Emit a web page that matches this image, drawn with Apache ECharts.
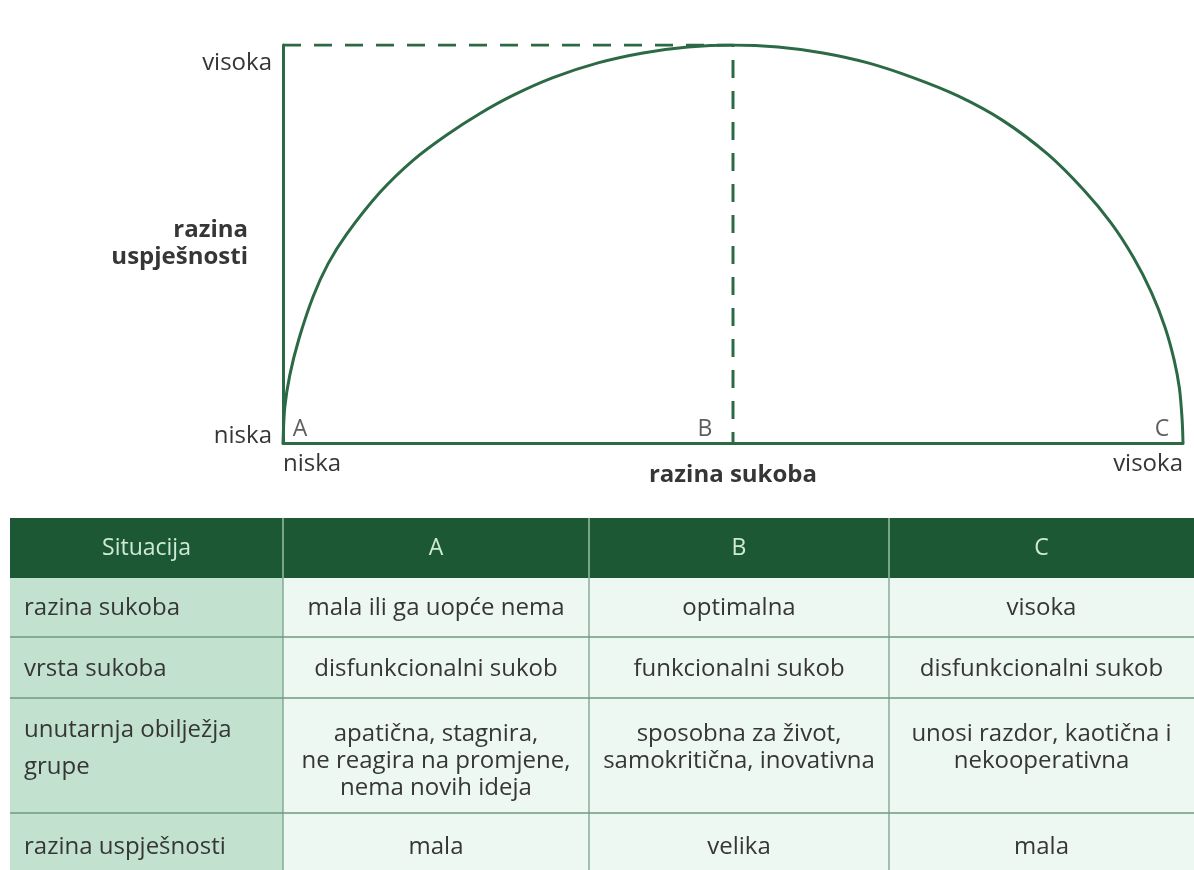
<!DOCTYPE html>
<html>
<head>
<meta charset="utf-8">
<script src="https://cdn.jsdelivr.net/npm/echarts@6/dist/echarts.min.js"></script>
<style>
html,body{margin:0;padding:0;background:#ffffff;}
#chart{width:1194px;height:870px;}
</style>
</head>
<body>
<div id="chart"></div>
<script>
// ---- data ----
const xTickValues = [0, 2];
const xTickLabels = ['niska', 'visoka'];
const yTickValues = [0, 1];
const yTickLabels = ['niska', 'visoka'];
const xAxisTitle = 'razina sukoba';
const yAxisTitle = 'razina\nuspješnosti';

const curveX = [0, 0.004, 0.015, 0.035, 0.067, 0.10, 0.1415, 0.2156, 0.2896, 0.3637, 0.4378, 0.512, 0.60, 0.70, 0.80, 0.90, 1,
                1.10, 1.20, 1.30, 1.40, 1.50, 1.60, 1.70, 1.78, 1.84, 1.89, 1.93, 1.96, 1.98, 1.992, 1.998, 2];
const curveY = [0, 0.09, 0.17, 0.26, 0.368, 0.45, 0.525, 0.630, 0.711, 0.774, 0.828, 0.874, 0.918, 0.955, 0.980, 0.995, 1,
                0.995, 0.98, 0.955, 0.918, 0.872, 0.81, 0.725, 0.635, 0.553, 0.466, 0.378, 0.291, 0.21, 0.138, 0.06, 0];

const guideX = [0, 1, 1];
const guideY = [1, 1, 0];

const pointNames = ['A', 'B', 'C'];
const pointX = [0, 1, 2];
const pointY = [0, 0, 0];

const tableHeader = ['Situacija', 'A', 'B', 'C'];
const rowLabels = ['razina sukoba', 'vrsta sukoba', 'unutarnja obilježja\ngrupe', 'razina uspješnosti'];
const colA = ['mala ili ga uopće nema', 'disfunkcionalni sukob', 'apatična, stagnira,\nne reagira na promjene,\nnema novih ideja', 'mala'];
const colB = ['optimalna', 'funkcionalni sukob', 'sposobna za život,\nsamokritična, inovativna', 'velika'];
const colC = ['visoka', 'disfunkcionalni sukob', 'unosi razdor, kaotična i\nnekooperativna', 'mala'];

// ---- styles ----
const GREEN = '#2c6a46';
const FONT = '"Open Sans", "Noto Sans", sans-serif';
const TXT = '#363636';
const FS = 24;

const chart = echarts.init(document.getElementById('chart'));

// table layout
const colEdges = [10, 283, 589, 889, 1194];
const rowEdges = [518, 578, 637, 698, 813, 890];
const graphics = [];
graphics.push({type:'rect', shape:{x:colEdges[0], y:rowEdges[0], width:colEdges[4]-colEdges[0], height:rowEdges[1]-rowEdges[0]}, style:{fill:'#1c5834'}});
graphics.push({type:'rect', shape:{x:colEdges[0], y:rowEdges[1], width:colEdges[1]-colEdges[0], height:rowEdges[5]-rowEdges[1]}, style:{fill:'#c2e2cf'}});
graphics.push({type:'rect', shape:{x:colEdges[1], y:rowEdges[1], width:colEdges[4]-colEdges[1], height:rowEdges[5]-rowEdges[1]}, style:{fill:'#eef8f3'}});
for (let r = 2; r <= 4; r++) {
  graphics.push({type:'line', shape:{x1:colEdges[0], y1:rowEdges[r], x2:colEdges[4], y2:rowEdges[r]}, style:{stroke:'#6f9a82', lineWidth:1.5}});
}
for (let c = 1; c <= 3; c++) {
  graphics.push({type:'line', shape:{x1:colEdges[c], y1:rowEdges[0], x2:colEdges[c], y2:rowEdges[1]}, style:{stroke:'#b9d8c4', lineWidth:1.2}});
  graphics.push({type:'line', shape:{x1:colEdges[c], y1:rowEdges[1], x2:colEdges[c], y2:rowEdges[5]}, style:{stroke:'#6f9a82', lineWidth:1.2}});
}
tableHeader.forEach((t, i) => {
  graphics.push({type:'text', style:{text:t, x:(colEdges[i]+colEdges[i+1])/2, y:(rowEdges[0]+rowEdges[1])/2,
    align:'center', verticalAlign:'middle', fill:'#cfe9d7', fontSize:23, fontFamily:FONT}});
});
const rowTextY = [608, 669, 749, 847];
rowLabels.forEach((t, r) => {
  graphics.push({type:'text', style:{text:t, x:24, y:rowTextY[r], align:'left', verticalAlign:'middle',
    fill:TXT, fontSize:FS, fontFamily:FONT, lineHeight:37}});
});
[colA, colB, colC].forEach((col, c) => {
  col.forEach((t, r) => {
    const cx = (colEdges[c+1]+colEdges[c+2])/2;
    if (r === 2) {
      graphics.push({type:'text', style:{text:t, x:cx, y:721, align:'center', verticalAlign:'top',
        fill:TXT, fontSize:FS, fontFamily:FONT, lineHeight:27}});
    } else {
      graphics.push({type:'text', style:{text:t, x:cx, y:rowTextY[r], align:'center', verticalAlign:'middle',
        fill:TXT, fontSize:FS, fontFamily:FONT}});
    }
  });
});

const labelOffsets = [[17, 0], [-28, 0], [-21, 0]];

const option = {
  backgroundColor: '#ffffff',
  animation: false,
  grid: {left: 283, right: 11, top: 45, bottom: 427, containLabel: false, outerBoundsMode: 'none'},
  xAxis: {
    type: 'value', min: 0, max: 2, interval: 2,
    name: xAxisTitle, nameLocation: 'middle', nameGap: 20, nameMoveOverlap: false,
    nameTextStyle: {fontSize: FS, fontWeight: 'bold', color: TXT, fontFamily: FONT},
    axisLine: {show: true, lineStyle: {color: GREEN, width: 3}},
    axisTick: {show: false}, splitLine: {show: false},
    axisLabel: {
      show: true, margin: 9, color: TXT, fontSize: FS, fontFamily: FONT,
      alignMinLabel: 'left', alignMaxLabel: 'right',
      formatter: v => { const i = xTickValues.indexOf(v); return i >= 0 ? xTickLabels[i] : ''; }
    }
  },
  yAxis: {
    type: 'value', min: 0, max: 1, interval: 1,
    name: yAxisTitle, nameLocation: 'middle', nameGap: 35, nameRotate: 0, nameMoveOverlap: false,
    nameTextStyle: {fontSize: FS, fontWeight: 'bold', color: TXT, fontFamily: FONT, align: 'right', lineHeight: 27},
    axisLine: {show: true, lineStyle: {color: GREEN, width: 3}},
    axisTick: {show: false}, splitLine: {show: false},
    axisLabel: {
      show: true, margin: 11, color: TXT, fontSize: FS, fontFamily: FONT,
      verticalAlignMinLabel: 'bottom', verticalAlignMaxLabel: 'top',
      formatter: v => {
        const i = yTickValues.indexOf(v);
        if (i < 0) return '';
        return (i === 0 ? '{lo|' : '{hi|') + yTickLabels[i] + '}';
      },
      rich: {
        lo: {fontSize: FS, fontFamily: FONT, color: TXT, lineHeight: 14},
        hi: {fontSize: FS, fontFamily: FONT, color: TXT, lineHeight: 36}
      }
    }
  },
  series: [
    {
      type: 'line', data: guideX.map((x, i) => [x, guideY[i]]),
      symbol: 'none', lineStyle: {color: GREEN, width: 3, type: [18, 13]}, z: 2
    },
    {
      type: 'line', data: curveX.map((x, i) => [x, curveY[i]]),
      symbol: 'none', smooth: 0.3,
      lineStyle: {color: GREEN, width: 3}, z: 3
    },
    {
      type: 'scatter', symbolSize: 1, itemStyle: {color: 'rgba(0,0,0,0)'},
      data: pointX.map((x, i) => ({
        value: [x, pointY[i]], name: pointNames[i],
        label: {show: true, position: 'top', distance: 2, offset: labelOffsets[i], formatter: '{b}',
          color: TXT, fontSize: 23, fontFamily: FONT}
      })),
      z: 4
    }
  ],
  graphic: graphics
};
chart.setOption(option);
</script>
</body>
</html>
